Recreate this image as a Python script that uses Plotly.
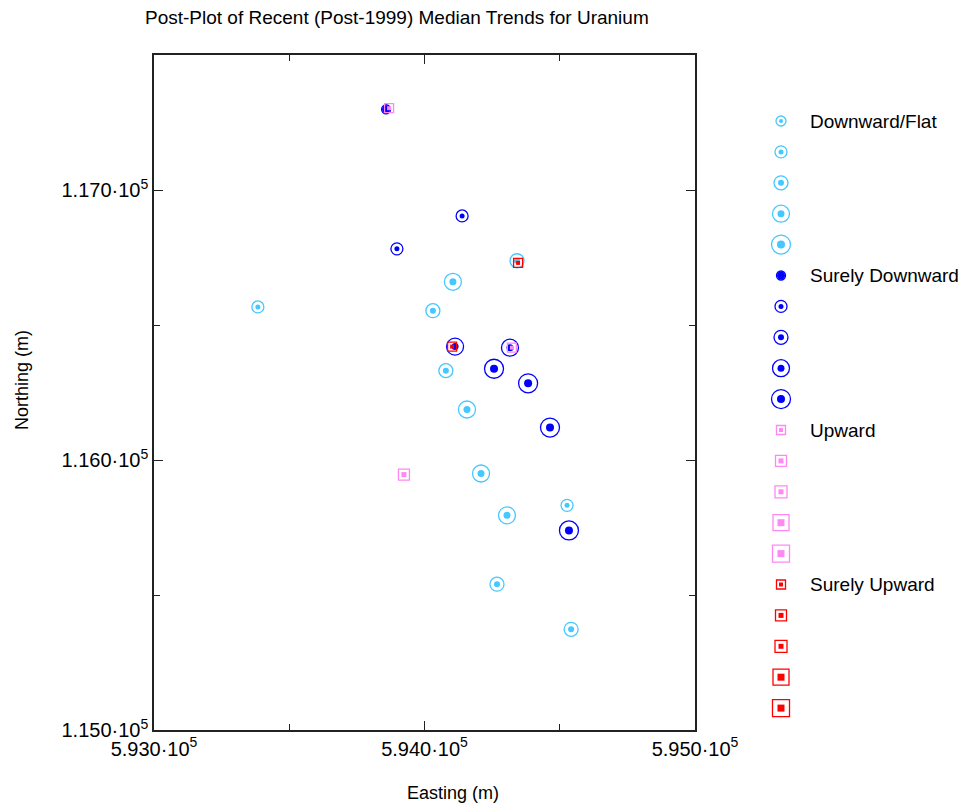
import plotly.graph_objects as go

# ---------------- data ----------------
# Downward/Flat
df_x = [594342, 594105, 593384, 594031, 594079, 594157, 594209, 594527, 594305, 594268, 594542]
df_y = [116738, 116660, 116567, 116553, 116331, 116187, 115950, 115832, 115795, 115540, 115373]
df_k = [3, 4, 2, 3, 3, 4, 4, 2, 4, 3, 3]
# Surely Downward
sd_x = [593858, 594139, 593898, 594113, 594316, 594257, 594383, 594464, 594534]
sd_y = [117299, 116904, 116782, 116420, 116416, 116338, 116284, 116120, 115739]
sd_k = [1, 2, 2, 4, 4, 5, 5, 5, 5]
# Upward
up_x = [593869, 594323, 593924]
up_y = [117303, 116416, 115946]
up_k = [1, 1, 2]
# Surely Upward
su_x = [594346, 594102]
su_y = [116730, 116420]
su_k = [1, 1]

categories = ["Downward/Flat", "Surely Downward", "Upward", "Surely Upward"]
x_ticks = [593000, 594000, 595000]
x_ticklabels = ["5.930·10<sup>5</sup>", "5.940·10<sup>5</sup>", "5.950·10<sup>5</sup>"]
x_minor = [593500, 594500]
y_ticks = [115000, 116000, 117000]
y_ticklabels = ["1.150·10<sup>5</sup>", "1.160·10<sup>5</sup>", "1.170·10<sup>5</sup>"]
y_minor = [115500, 116500, 117500]

# ---------------- styles ----------------
FONT = "Liberation Sans, Arial, Helvetica, sans-serif"
circ_ring = {1: 10, 2: 12, 3: 14, 4: 17, 5: 19}
circ_dot = {1: 4, 2: 5, 3: 6, 4: 7, 5: 8}
blue_ring = {1: 9, 2: 12, 3: 14, 4: 17, 5: 19}
blue_dot = {1: 8, 2: 5, 3: 6, 4: 7, 5: 8}
sq_ring = {1: 9, 2: 11, 3: 12, 4: 16, 5: 17}
sq_dot = {1: 4, 2: 5, 3: 5, 4: 7, 5: 7}

styles = [
    dict(color="#45c8ff", shape="circle", ring=circ_ring, dot=circ_dot),
    dict(color="#0000ff", shape="circle", ring=blue_ring, dot=blue_dot),
    dict(color="#ff88f4", shape="square", ring=sq_ring, dot=sq_dot),
    dict(color="#ff0000", shape="square", ring=sq_ring, dot=sq_dot),
]
series = [(df_x, df_y, df_k), (sd_x, sd_y, sd_k), (up_x, up_y, up_k), (su_x, su_y, su_k)]

fig = go.Figure()


def add_marks(xs, ys, ks, st, xa="x", ya="y"):
    fig.add_trace(go.Scatter(
        x=xs, y=ys, mode="markers", xaxis=xa, yaxis=ya, showlegend=False, hoverinfo="skip",
        marker=dict(symbol=st["shape"] + "-open", size=[st["ring"][k] for k in ks], opacity=1,
                    color=st["color"], line=dict(width=1.3, color=st["color"]))))
    fig.add_trace(go.Scatter(
        x=xs, y=ys, mode="markers", xaxis=xa, yaxis=ya, showlegend=False, hoverinfo="skip",
        marker=dict(symbol=st["shape"], size=[st["dot"][k] for k in ks], opacity=1,
                    color=st["color"], line=dict(width=0))))


for (xs, ys, ks), st in zip(series, styles):
    add_marks(xs, ys, ks, st)

# ---------------- legend panel (second axes) ----------------
LEG_X = 0.057
for ci, (name, st) in enumerate(zip(categories, styles)):
    rows = [ci * 5 + k for k in range(1, 6)]
    add_marks([LEG_X] * 5, rows, list(range(1, 6)), st, xa="x2", ya="y2")
    fig.add_annotation(x=0.197, y=rows[0], xref="x2", yref="y2", text=name, showarrow=False,
                       xanchor="left", yanchor="middle", font=dict(size=19, color="black", family=FONT))

axis_common = dict(showline=True, linecolor="#222", linewidth=1.5, mirror="allticks",
                   ticks="inside", ticklen=9, tickwidth=1.3, tickcolor="#222", automargin=False,
                   showgrid=False, zeroline=False, tickfont=dict(size=20, family=FONT, color="black"))

fig.update_layout(
    width=963, height=808,
    margin=dict(l=154, r=0, t=55, b=78),
    paper_bgcolor="white", plot_bgcolor="white",
    title=dict(text="Post-Plot of Recent (Post-1999) Median Trends for Uranium",
               xref="container", x=145 / 963, xanchor="left", yref="container", y=1 - 17 / 808,
               yanchor="middle", font=dict(size=19, family=FONT, color="black")),
    xaxis=dict(domain=[0, 541 / 809], range=[593000, 595000], tickmode="array",
               tickvals=x_ticks, ticktext=x_ticklabels,
               minor=dict(tickmode="array", tickvals=x_minor, ticklen=6, ticks="inside",
                          tickcolor="#222", tickwidth=1.3),
               **axis_common),
    yaxis=dict(domain=[0, 1], range=[115000, 117500], tickmode="array",
               tickvals=y_ticks, ticktext=y_ticklabels,
               minor=dict(tickmode="array", tickvals=y_minor, ticklen=6, ticks="inside",
                          tickcolor="#222", tickwidth=1.3),
               **axis_common),
    xaxis2=dict(domain=[(770 - 154) / 809, 1], range=[0, 1], visible=False, anchor="y2",
                automargin=False),
    yaxis2=dict(domain=[0, 1], range=[1 + (730 - 121) / 30.9, 1 - (121 - 55) / 30.9],
                visible=False, anchor="x2", automargin=False),
    showlegend=False,
)

fig.add_annotation(text="Easting (m)", xref="paper", yref="paper", x=(453 - 154) / 809,
                   y=-(793 - 730) / 675, showarrow=False, xanchor="center", yanchor="middle",
                   font=dict(size=18, family=FONT, color="black"))
fig.add_annotation(text="Northing (m)", xref="paper", yref="paper", x=(22 - 154) / 809,
                   y=(730 - 380) / 675, showarrow=False, xanchor="center", yanchor="middle",
                   textangle=-90, font=dict(size=18, family=FONT, color="black"))

fig.write_html("out.html")
